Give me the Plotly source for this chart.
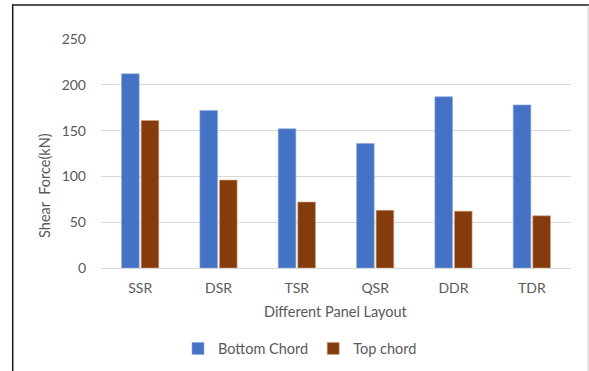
import plotly.graph_objects as go

categories = ["SSR", "DSR", "TSR", "QSR", "DDR", "TDR"]
bottom_chord = [212, 172, 152, 136, 187, 178]
top_chord = [161, 96, 72, 63, 62, 57]
y_ticks = [0, 50, 100, 150, 200, 250]

W, H = 589, 371
L, R, T, B = 101, 571, 38.7, 268.3
pw, ph = R - L, B - T

def px(x):
    return (x - L) / pw

def py(y):
    return (B - y) / ph

FONT = "Lato, Open Sans, sans-serif"
GRAY = "#595959"

fig = go.Figure()
fig.add_trace(go.Bar(x=categories, y=bottom_chord, name="Bottom Chord",
                     marker=dict(color="#4472C4", line=dict(color="#8FAADC", width=0.6))))
fig.add_trace(go.Bar(x=categories, y=top_chord, name="Top chord",
                     marker=dict(color="#843C0C", line=dict(color="#D9A07A", width=0.6))))

fig.update_layout(
    width=W, height=H,
    margin=dict(l=L, r=W - R, t=T, b=H - B, pad=0, autoexpand=False),
    paper_bgcolor="white", plot_bgcolor="white",
    barmode="group", bargap=0.5, bargroupgap=0.1,
    font=dict(family=FONT, size=14, color=GRAY),
    showlegend=True,
    legend=dict(orientation="h", x=px(300), y=py(349), xanchor="center", yanchor="middle",
                font=dict(family=FONT, size=14.5, color=GRAY), itemwidth=30,
                tracegroupgap=0, bgcolor="rgba(0,0,0,0)"),
    xaxis=dict(showgrid=False, showline=True, linecolor="#D9D9D9", linewidth=1,
               ticks="", automargin=False, ticklabelstandoff=7,
               tickfont=dict(family=FONT, size=14, color=GRAY)),
    yaxis=dict(range=[0, 250], tickvals=y_ticks, showgrid=True, gridcolor="#D9D9D9",
               gridwidth=1, zeroline=False, showline=False, ticks="", automargin=False,
               ticklabelstandoff=14,
               tickfont=dict(family=FONT, size=14, color=GRAY)),
    annotations=[
        dict(text="Shear  Force(kN)", x=px(45), y=py(186), xref="paper", yref="paper",
             textangle=-90, showarrow=False, xanchor="center", yanchor="middle",
             font=dict(family=FONT, size=14.5, color=GRAY)),
        dict(text="Different Panel Layout", x=px(335.5), y=py(312), xref="paper", yref="paper",
             showarrow=False, xanchor="center", yanchor="middle",
             font=dict(family=FONT, size=14.5, color=GRAY)),
    ],
    shapes=[
        dict(type="line", xref="paper", yref="paper", x0=px(12.7), x1=px(12.7),
             y0=py(4.2), y1=py(372), line=dict(color="#1a1a1a", width=1.5)),
        dict(type="line", xref="paper", yref="paper", x0=px(12), x1=px(589),
             y0=py(4.7), y1=py(4.7), line=dict(color="#1a1a1a", width=1.5)),
        dict(type="line", xref="paper", yref="paper", x0=px(588), x1=px(588),
             y0=py(5), y1=py(372), line=dict(color="#C8C8C8", width=1)),
    ],
)

fig.write_html("out.html", config={"displayModeBar": False},
               post_script="document.body.style.margin='0';document.body.style.overflow='hidden';")
